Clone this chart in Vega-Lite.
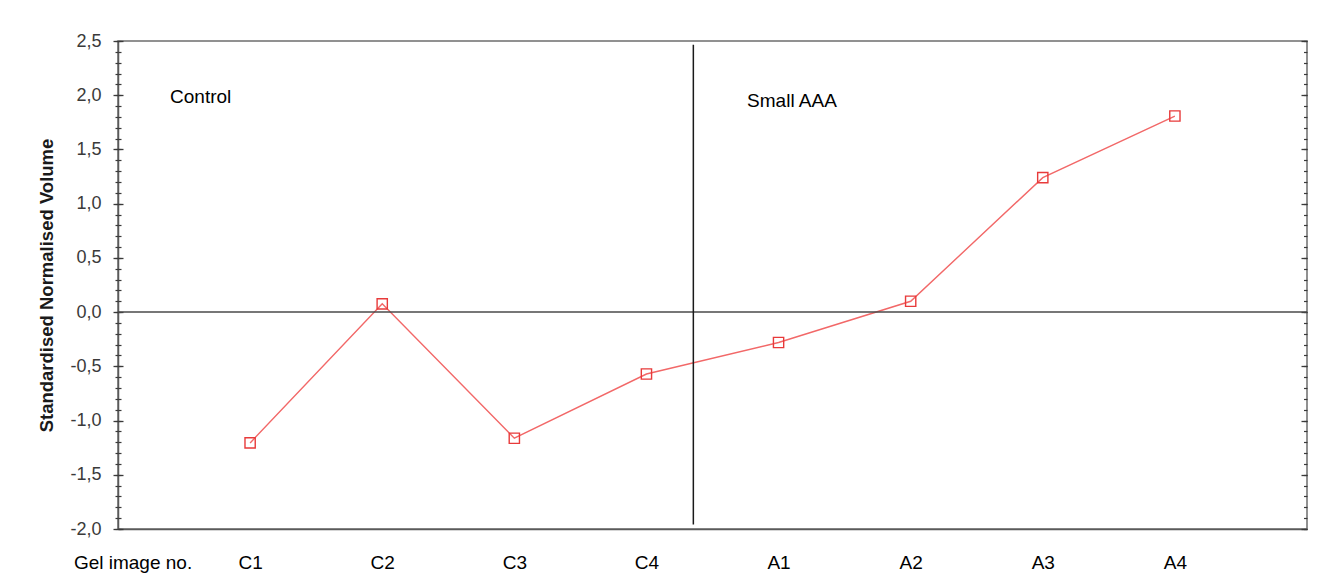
{
  "$schema": "https://vega.github.io/schema/vega-lite/v6.json",
  "width": 1189,
  "height": 488,
  "autosize": {"type": "none"},
  "padding": {"left": 118, "top": 41, "right": 18, "bottom": 54},
  "background": "white",
  "config": {
    "view": {"stroke": "#6e6e6e", "strokeWidth": 1.5},
    "axis": {"grid": false, "labelFont": "Liberation Sans", "titleFont": "Liberation Sans"}
  },
  "datasets": {
    "gels": [
      {"x": 1, "gel": "C1", "y": -1.206},
      {"x": 2, "gel": "C2", "y": 0.076},
      {"x": 3, "gel": "C3", "y": -1.163},
      {"x": 4, "gel": "C4", "y": -0.571},
      {"x": 5, "gel": "A1", "y": -0.280},
      {"x": 6, "gel": "A2", "y": 0.100},
      {"x": 7, "gel": "A3", "y": 1.240},
      {"x": 8, "gel": "A4", "y": 1.808}
    ]
  },
  "encoding": {
    "x": {
      "field": "x",
      "type": "quantitative",
      "scale": {"domain": [0, 9], "nice": false, "zero": false},
      "axis": {
        "orient": "bottom",
        "title": null,
        "values": [0.11, 1, 2, 3, 4, 5, 6, 7, 8],
        "labelExpr": "datum.value < 1 ? 'Gel image no.' : ['C1','C2','C3','C4','A1','A2','A3','A4'][datum.value - 1]",
        "ticks": false,
        "labelPadding": 24,
        "labelFontSize": 19,
        "labelColor": "#000000",
        "labelFlush": false,
        "labelOverlap": false,
        "labelBound": false,
        "domainColor": "#5a5a5a",
        "domainWidth": 1.5
      }
    }
  },
  "resolve": {"axis": {"y": "independent"}},
  "layer": [
    {
      "data": {"name": "gels"},
      "mark": {"type": "line", "color": "#f26868", "strokeWidth": 1.4},
      "encoding": {
        "y": {
          "field": "y",
          "type": "quantitative",
          "scale": {"domain": [-2, 2.5], "nice": false, "zero": false},
          "axis": {
            "orient": "left",
            "title": "Standardised Normalised Volume",
            "titleFontSize": 18.5,
            "titleFontWeight": "bold",
            "titleColor": "#1a1a1a",
            "titlePadding": 13,
            "values": [-2, -1.5, -1, -0.5, 0, 0.5, 1, 1.5, 2, 2.5],
            "labelExpr": "replace(replace(format(datum.value, '.1f'), '.', ','), '\u2212', '-')",
            "labelFontSize": 18,
            "labelColor": "#3a3a3a",
            "labelPadding": 12,
            "tickSize": 5,
            "tickColor": "#3a3a3a",
            "tickWidth": 1.3,
            "domainColor": "#5a5a5a",
            "domainWidth": 1.5,
            "labelOverlap": false,
            "labelFlush": false
          }
        }
      }
    },
    {
      "data": {"name": "gels"},
      "mark": {"type": "point", "shape": "square", "size": 105, "filled": false, "color": "#e83a3a", "strokeWidth": 1.4, "opacity": 1},
      "encoding": {
        "y": {
          "field": "y",
          "type": "quantitative",
          "axis": {
            "orient": "left",
            "title": null,
            "labels": false,
            "domain": false,
            "tickSize": 3,
            "tickColor": "#3a3a3a",
            "tickWidth": 1.2,
            "values": [-2, -1.9, -1.8, -1.7, -1.6, -1.5, -1.4, -1.3, -1.2, -1.1, -1, -0.9, -0.8, -0.7, -0.6, -0.5, -0.4, -0.3, -0.2, -0.1, 0, 0.1, 0.2, 0.3, 0.4, 0.5, 0.6, 0.7, 0.8, 0.9, 1, 1.1, 1.2, 1.3, 1.4, 1.5, 1.6, 1.7, 1.8, 1.9, 2, 2.1, 2.2, 2.3, 2.4, 2.5]
          }
        }
      }
    },
    {
      "data": {"values": [{"x": 0, "x2": 9, "y": 0}]},
      "mark": {"type": "rule", "color": "#4a4a4a", "strokeWidth": 1.5},
      "encoding": {
        "x2": {"field": "x2"},
        "y": {
          "field": "y",
          "type": "quantitative",
          "axis": {
            "orient": "left",
            "title": null,
            "labels": false,
            "domain": false,
            "tickSize": -3,
            "tickColor": "#3a3a3a",
            "tickWidth": 1.2,
            "values": [-2, -1.9, -1.8, -1.7, -1.6, -1.5, -1.4, -1.3, -1.2, -1.1, -1, -0.9, -0.8, -0.7, -0.6, -0.5, -0.4, -0.3, -0.2, -0.1, 0, 0.1, 0.2, 0.3, 0.4, 0.5, 0.6, 0.7, 0.8, 0.9, 1, 1.1, 1.2, 1.3, 1.4, 1.5, 1.6, 1.7, 1.8, 1.9, 2, 2.1, 2.2, 2.3, 2.4, 2.5]
          }
        }
      }
    },
    {
      "data": {"values": [{"x": 0.394, "y": 1.986, "label": "Control"}]},
      "mark": {"type": "text", "align": "left", "baseline": "middle", "font": "Liberation Sans", "fontSize": 19, "color": "#000000"},
      "encoding": {
        "text": {"field": "label"},
        "y": {
          "field": "y",
          "type": "quantitative",
          "axis": {
            "orient": "left",
            "title": null,
            "labels": false,
            "domain": false,
            "tickSize": -5,
            "tickColor": "#3a3a3a",
            "tickWidth": 1.3,
            "values": [-2, -1.5, -1, -0.5, 0, 0.5, 1, 1.5, 2, 2.5]
          }
        }
      }
    },
    {
      "data": {"values": [{"x": 4.762, "y": 1.949, "label": "Small AAA"}]},
      "mark": {"type": "text", "align": "left", "baseline": "middle", "font": "Liberation Sans", "fontSize": 19, "color": "#000000"},
      "encoding": {
        "text": {"field": "label"},
        "y": {
          "field": "y",
          "type": "quantitative",
          "axis": {
            "orient": "right",
            "title": null,
            "labels": false,
            "domain": false,
            "tickSize": -6,
            "tickColor": "#3a3a3a",
            "tickWidth": 1.3,
            "values": [-2, -1.5, -1, -0.5, 0, 0.5, 1, 1.5, 2, 2.5]
          }
        }
      }
    },
    {
      "data": {"values": [{"x": 4.355, "y": 2.465, "y2": -1.958}]},
      "mark": {"type": "rule", "color": "#1a1a1a", "strokeWidth": 1.5},
      "encoding": {
        "y2": {"field": "y2"},
        "y": {
          "field": "y",
          "type": "quantitative",
          "axis": {
            "orient": "right",
            "title": null,
            "labels": false,
            "domain": false,
            "tickSize": -3.5,
            "tickColor": "#3a3a3a",
            "tickWidth": 1.2,
            "values": [-2, -1.9, -1.8, -1.7, -1.6, -1.5, -1.4, -1.3, -1.2, -1.1, -1, -0.9, -0.8, -0.7, -0.6, -0.5, -0.4, -0.3, -0.2, -0.1, 0, 0.1, 0.2, 0.3, 0.4, 0.5, 0.6, 0.7, 0.8, 0.9, 1, 1.1, 1.2, 1.3, 1.4, 1.5, 1.6, 1.7, 1.8, 1.9, 2, 2.1, 2.2, 2.3, 2.4, 2.5]
          }
        }
      }
    }
  ]
}
